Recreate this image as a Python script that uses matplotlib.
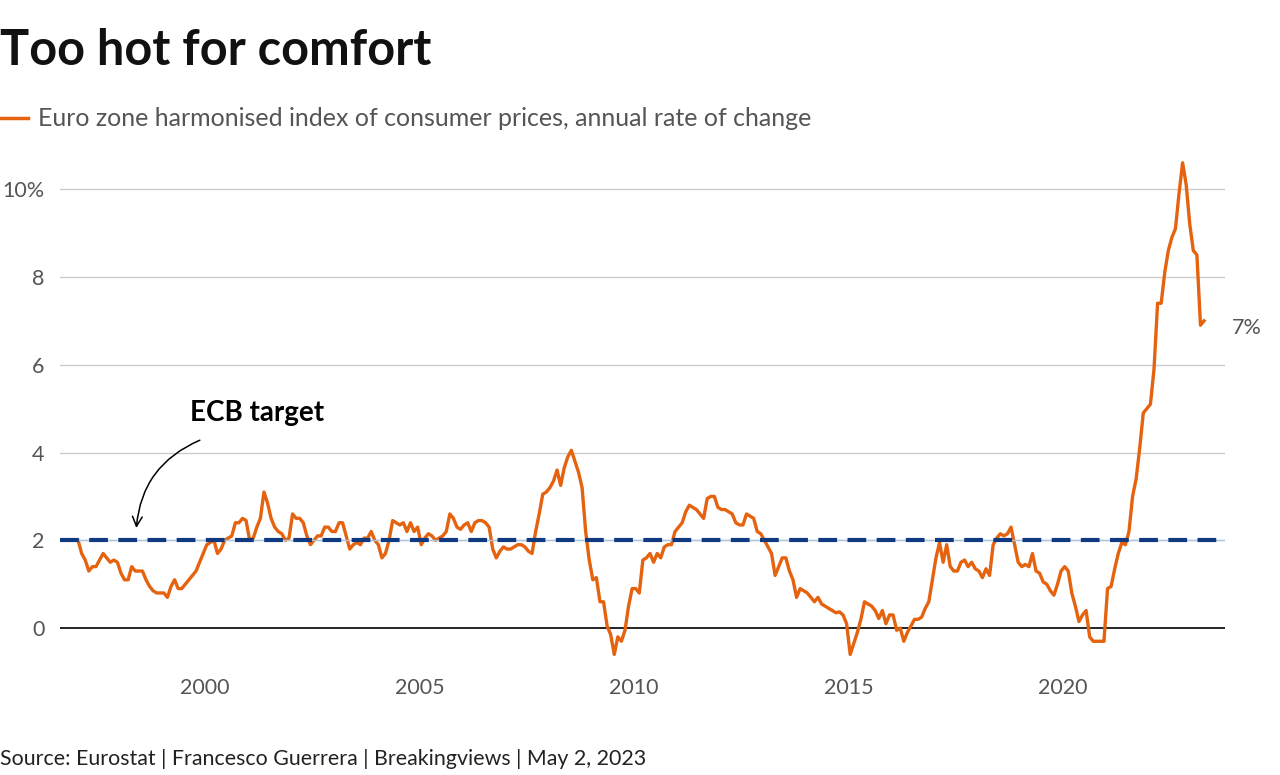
import numpy as np
import matplotlib
matplotlib.use("Agg")
import matplotlib.pyplot as plt

plt.rcParams['font.family'] = ['Lato', 'DejaVu Sans']

# Euro zone HICP, annual rate of change (%), monthly
hicp = {
    1997: [2.0, 1.7, 1.55, 1.3, 1.4, 1.4, 1.55, 1.7, 1.6, 1.5, 1.55, 1.5],
    1998: [1.25, 1.1, 1.1, 1.4, 1.3, 1.3, 1.3, 1.1, 0.95, 0.85, 0.8, 0.8],
    1999: [0.8, 0.7, 0.95, 1.1, 0.9, 0.9, 1.0, 1.1, 1.2, 1.3, 1.5, 1.7],
    2000: [1.9, 1.95, 2.0, 1.7, 1.8, 2.0, 2.05, 2.1, 2.4, 2.4, 2.5, 2.45],
    2001: [2.0, 2.05, 2.3, 2.5, 3.1, 2.85, 2.5, 2.3, 2.2, 2.15, 2.0, 2.05],
    2002: [2.6, 2.5, 2.5, 2.4, 2.1, 1.9, 2.0, 2.1, 2.1, 2.3, 2.3, 2.2],
    2003: [2.2, 2.4, 2.4, 2.1, 1.8, 1.9, 1.95, 1.9, 2.05, 2.05, 2.2, 2.0],
    2004: [1.9, 1.6, 1.7, 2.0, 2.45, 2.4, 2.35, 2.4, 2.2, 2.4, 2.2, 2.3],
    2005: [1.9, 2.05, 2.15, 2.1, 2.0, 2.05, 2.1, 2.2, 2.6, 2.5, 2.3, 2.25],
    2006: [2.35, 2.4, 2.2, 2.4, 2.45, 2.45, 2.4, 2.3, 1.8, 1.6, 1.75, 1.85],
    2007: [1.8, 1.8, 1.85, 1.9, 1.9, 1.85, 1.75, 1.7, 2.2, 2.6, 3.05, 3.1],
    2008: [3.2, 3.35, 3.6, 3.25, 3.65, 3.9, 4.05, 3.8, 3.55, 3.2, 2.2, 1.55],
    2009: [1.1, 1.15, 0.6, 0.6, 0.05, -0.15, -0.6, -0.2, -0.3, -0.05, 0.5, 0.9],
    2010: [0.9, 0.8, 1.55, 1.6, 1.7, 1.5, 1.7, 1.6, 1.85, 1.9, 1.9, 2.2],
    2011: [2.3, 2.4, 2.65, 2.8, 2.75, 2.7, 2.6, 2.5, 2.95, 3.0, 3.0, 2.75],
    2012: [2.7, 2.7, 2.65, 2.6, 2.4, 2.35, 2.35, 2.6, 2.55, 2.5, 2.2, 2.15],
    2013: [2.0, 1.85, 1.7, 1.2, 1.4, 1.6, 1.6, 1.3, 1.1, 0.7, 0.9, 0.85],
    2014: [0.8, 0.7, 0.6, 0.7, 0.55, 0.5, 0.45, 0.4, 0.35, 0.37, 0.3, 0.1],
    2015: [-0.6, -0.35, -0.1, 0.2, 0.6, 0.55, 0.5, 0.4, 0.22, 0.4, 0.1, 0.3],
    2016: [0.3, -0.05, 0.0, -0.3, -0.1, 0.05, 0.2, 0.2, 0.25, 0.45, 0.6, 1.1],
    2017: [1.6, 1.95, 1.5, 1.9, 1.4, 1.3, 1.3, 1.5, 1.55, 1.4, 1.5, 1.35],
    2018: [1.3, 1.15, 1.35, 1.2, 1.9, 2.05, 2.15, 2.1, 2.15, 2.3, 1.9, 1.5],
    2019: [1.4, 1.45, 1.4, 1.7, 1.3, 1.25, 1.05, 1.0, 0.85, 0.75, 1.0, 1.3],
    2020: [1.4, 1.3, 0.8, 0.5, 0.15, 0.3, 0.4, -0.2, -0.3, -0.3, -0.3, -0.3],
    2021: [0.9, 0.95, 1.35, 1.7, 1.95, 1.9, 2.2, 3.0, 3.4, 4.1, 4.9, 5.0],
    2022: [5.1, 5.9, 7.4, 7.4, 8.1, 8.6, 8.9, 9.1, 9.9, 10.6, 10.1, 9.2],
    2023: [8.6, 8.5, 6.9, 7.0],
}
ecb_target = 2.0
yticks = [0, 2, 4, 6, 8, 10]
ytick_labels = ['0', '2', '4', '6', '8', '10%']
xticks = [2000, 2005, 2010, 2015, 2020]

x = []
y = []
for year, vals in hicp.items():
    for m, v in enumerate(vals):
        x.append(year + (m + 0.5) / 12)
        y.append(v)

orange = '#e5620e'
navy = '#0f3a80'
grey = '#555555'

fig = plt.figure(figsize=(12.8, 7.75), dpi=100)
ax = fig.add_axes([60 / 1280, 1 - 672 / 775, 1165 / 1280, 518 / 775])

ax.set_xlim(1996.62, 2023.78)
ax.set_ylim(-1.0, 10.8)

for t in yticks[1:]:
    ax.axhline(t, color='#cccccc', lw=1, zorder=1)
ax.axhline(0, color='black', lw=1.2, zorder=2)

ax.plot(x, y, color=orange, lw=2.4, zorder=3, solid_joinstyle='round')

# ECB target line
ax.axhline(ecb_target, color='#a9c6e3', lw=1, zorder=4)
ax.axhline(ecb_target, color=navy, lw=3, dashes=(4.5, 2.5), zorder=5)

ax.set_yticks(yticks)
ax.set_yticklabels(ytick_labels)
ax.set_xticks(xticks)
ax.set_xticklabels([str(t) for t in xticks])
ax.tick_params(axis='both', length=0, labelsize=15.5, colors=grey)
ax.tick_params(axis='y', pad=11)
ax.tick_params(axis='x', pad=4)
for s in ax.spines.values():
    s.set_visible(False)

ax.text(1999.65, 4.6, 'ECB target', fontsize=20, fontweight='bold',
        color='black', ha='left', va='bottom')
ax.annotate('', xy=(1998.4, 2.28), xytext=(1999.88, 4.28),
            arrowprops=dict(arrowstyle='->,head_length=0.7,head_width=0.35',
                            color='black', lw=1.1,
                            connectionstyle='arc3,rad=0.3',
                            shrinkA=0, shrinkB=0))

ax.annotate('7%', xy=(x[-1], y[-1]), xytext=(20, -5), textcoords='offset points',
            fontsize=15.5, color=grey, ha='left', va='center')

fig.text(0.0, 1 - 65 / 775, 'Too hot for comfort', fontsize=35, fontweight='bold',
         color='#111111', ha='left', va='baseline')
fig.lines.append(plt.Line2D([0, 28 / 1280], [1 - 118 / 775, 1 - 118 / 775],
                            color=orange, lw=2.5, transform=fig.transFigure))
fig.text(38 / 1280, 1 - 119 / 775,
         'Euro zone harmonised index of consumer prices, annual rate of change',
         fontsize=18, color='#555555', ha='left', va='center')
fig.text(0.0, 1 - 765 / 775,
         'Source: Eurostat | Francesco Guerrera | Breakingviews | May 2, 2023',
         fontsize=15.4, color='#222222', ha='left', va='baseline')

fig.savefig('out.png', dpi=100)
